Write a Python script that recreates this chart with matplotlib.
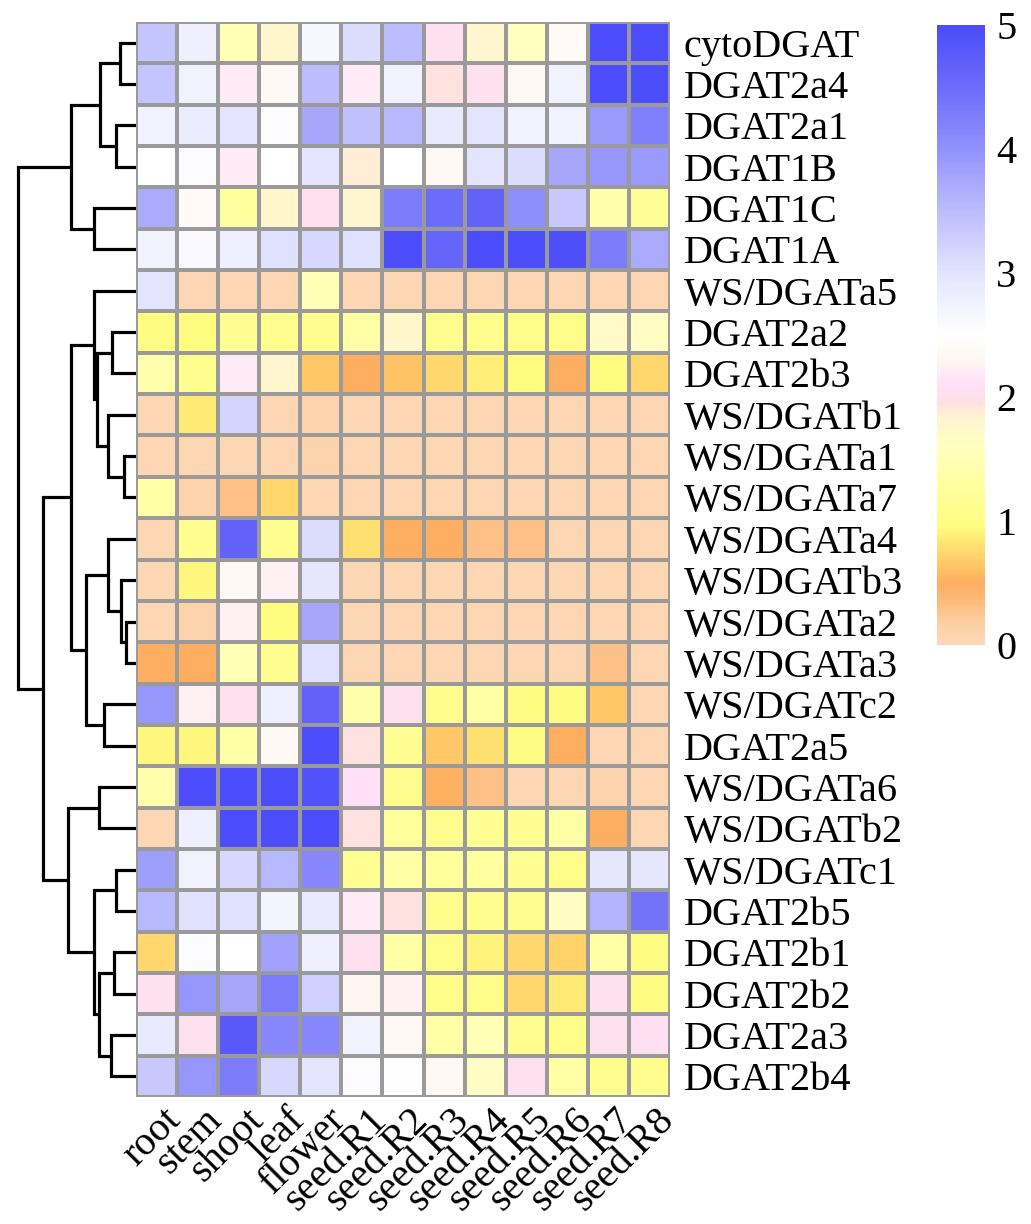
import numpy as np
import matplotlib
matplotlib.use("Agg")
import matplotlib.pyplot as plt
from matplotlib.colors import LinearSegmentedColormap, Normalize
import matplotlib.colorbar as mcolorbar

plt.rcParams['font.family'] = ['Liberation Serif', 'DejaVu Serif']

samples = ["root", "stem", "shoot", "leaf", "flower", "seed.R1", "seed.R2",
           "seed.R3", "seed.R4", "seed.R5", "seed.R6", "seed.R7", "seed.R8"]

genes = ["cytoDGAT", "DGAT2a4", "DGAT2a1", "DGAT1B", "DGAT1C", "DGAT1A",
         "WS/DGATa5", "DGAT2a2", "DGAT2b3", "WS/DGATb1", "WS/DGATa1", "WS/DGATa7",
         "WS/DGATa4", "WS/DGATb3", "WS/DGATa2", "WS/DGATa3", "WS/DGATc2", "DGAT2a5",
         "WS/DGATa6", "WS/DGATb2", "WS/DGATc1", "DGAT2b5", "DGAT2b1", "DGAT2b2",
         "DGAT2a3", "DGAT2b4"]

expr = [
    [3.40, 2.80, 1.50, 1.75, 2.65, 3.10, 3.50, 2.05, 1.80, 1.60, 2.40, 5.00, 5.00],
    [3.40, 2.75, 2.20, 2.35, 3.50, 2.20, 2.75, 1.95, 2.05, 2.35, 2.75, 5.00, 5.00],
    [2.75, 2.85, 3.00, 2.55, 3.75, 3.45, 3.55, 2.90, 3.00, 2.75, 2.75, 3.90, 4.25],
    [2.50, 2.55, 2.20, 2.50, 3.00, 1.88, 2.50, 2.35, 3.00, 3.10, 3.75, 3.95, 3.90],
    [3.70, 2.40, 1.30, 1.75, 2.05, 1.80, 4.30, 4.50, 4.65, 4.05, 3.35, 1.40, 1.20],
    [2.75, 2.60, 2.80, 3.05, 3.15, 3.05, 5.00, 4.60, 5.00, 5.00, 4.95, 4.30, 3.70],
    [3.00, 0.05, 0.05, 0.05, 1.50, 0.05, 0.05, 0.05, 0.05, 0.05, 0.05, 0.05, 0.05],
    [1.00, 0.95, 1.15, 1.10, 1.10, 1.35, 1.75, 1.10, 1.10, 1.05, 1.05, 1.70, 1.65],
    [1.40, 1.10, 2.20, 1.80, 0.65, 0.50, 0.62, 0.75, 0.88, 0.95, 0.50, 0.95, 0.75],
    [0.05, 0.85, 3.20, 0.05, 0.10, 0.05, 0.05, 0.05, 0.05, 0.05, 0.05, 0.05, 0.05],
    [0.05, 0.05, 0.05, 0.05, 0.10, 0.05, 0.05, 0.05, 0.05, 0.05, 0.05, 0.05, 0.05],
    [1.35, 0.10, 0.30, 0.75, 0.05, 0.05, 0.05, 0.05, 0.05, 0.05, 0.05, 0.05, 0.05],
    [0.05, 1.10, 4.65, 1.10, 3.10, 0.80, 0.50, 0.50, 0.30, 0.30, 0.05, 0.05, 0.05],
    [0.05, 0.92, 2.35, 2.25, 2.95, 0.05, 0.05, 0.05, 0.05, 0.05, 0.05, 0.05, 0.05],
    [0.05, 0.10, 2.25, 0.95, 3.75, 0.05, 0.05, 0.05, 0.05, 0.05, 0.05, 0.05, 0.05],
    [0.50, 0.50, 1.50, 1.10, 3.05, 0.05, 0.05, 0.05, 0.05, 0.05, 0.05, 0.30, 0.05],
    [3.95, 2.25, 2.05, 2.80, 4.65, 1.40, 2.05, 1.10, 1.35, 1.00, 1.00, 0.65, 0.05],
    [0.92, 0.92, 1.35, 2.35, 5.00, 1.95, 1.15, 0.65, 0.80, 1.00, 0.50, 0.05, 0.05],
    [1.40, 5.00, 5.00, 5.00, 4.90, 2.10, 1.10, 0.52, 0.30, 0.05, 0.05, 0.10, 0.05],
    [0.05, 2.80, 5.00, 5.00, 5.00, 1.95, 1.25, 1.10, 1.15, 1.15, 1.35, 0.50, 0.05],
    [3.85, 2.75, 3.15, 3.55, 4.15, 1.15, 1.35, 1.25, 1.30, 1.15, 1.05, 2.95, 2.95],
    [3.55, 3.05, 3.05, 2.70, 2.90, 2.20, 1.95, 1.10, 1.10, 1.10, 1.65, 3.60, 4.40],
    [0.75, 2.55, 2.50, 3.80, 2.80, 2.05, 1.35, 1.05, 0.90, 0.75, 0.72, 1.35, 1.00],
    [2.05, 3.95, 3.75, 4.30, 3.25, 2.30, 2.25, 1.05, 1.05, 0.75, 0.85, 2.05, 1.00],
    [2.90, 2.05, 4.80, 4.15, 4.15, 2.75, 2.35, 1.35, 1.50, 1.10, 1.05, 2.05, 2.07],
    [3.35, 3.95, 4.30, 3.15, 3.00, 2.55, 2.52, 2.35, 1.65, 2.05, 1.35, 1.10, 1.10],
]

# row dendrogram merges: (child_a, child_b, height); leaves are 0..25, new nodes 26+
merges = [
    (0, 1, 16), (2, 3, 20), (26, 27, 36), (4, 5, 42), (28, 29, 65),
    (10, 11, 12), (9, 31, 28), (7, 8, 24), (33, 32, 39), (6, 34, 42),
    (14, 15, 10), (13, 36, 15), (12, 37, 28), (16, 17, 32), (38, 39, 50),
    (35, 40, 65), (18, 19, 37), (20, 21, 20), (22, 23, 22), (24, 25, 25),
    (44, 45, 37), (43, 46, 42), (42, 47, 68), (41, 48, 93), (30, 49, 118),
]

cb_ticks = [0, 1, 2, 3, 4, 5]

# colour scale (value, colour)
cstops = [
    (0.00, "#FDD9B8"), (0.15, "#FDD0A8"), (0.35, "#FDBA7A"), (0.50, "#FDAE60"),
    (0.65, "#FFC866"), (0.80, "#FFE070"), (0.95, "#FFFC80"), (1.30, "#FFFFA0"),
    (1.60, "#FFFFC0"), (1.85, "#FFF2D2"), (1.95, "#FFE0E0"), (2.10, "#FFE0F8"),
    (2.30, "#FFF6F2"), (2.50, "#FFFFFF"), (3.00, "#E4E4FF"), (3.50, "#BCBCFF"),
    (4.00, "#9292FC"), (4.50, "#6C6CFA"), (5.00, "#4C4CFA"),
]
vmin, vmax = 0.0, 5.0
cmap = LinearSegmentedColormap.from_list(
    "expr", [((v - vmin) / (vmax - vmin), c) for v, c in cstops], N=512)
norm = Normalize(vmin=vmin, vmax=vmax)

W, H = 1031, 1224
fig = plt.figure(figsize=(W / 100, H / 100), dpi=100)

hm_left, hm_right, hm_top, hm_bot = 136, 670, 22, 1097
ax = fig.add_axes([hm_left / W, (H - hm_bot) / H, (hm_right - hm_left) / W, (hm_bot - hm_top) / H])
data = np.array(expr)
nr, nc = data.shape
ax.pcolormesh(np.arange(nc + 1), np.arange(nr + 1), data, cmap=cmap, norm=norm,
              edgecolors="#9a9a9a", linewidth=1.6)
ax.set_xlim(0, nc)
ax.set_ylim(nr, 0)
for s in ax.spines.values():
    s.set_visible(False)
ax.set_xticks([])
ax.yaxis.tick_right()
ax.set_yticks(np.arange(nr) + 0.5)
ax.set_yticklabels(genes, fontsize=29)
ax.tick_params(axis="y", length=0, pad=10)

for j, name in enumerate(samples):
    ax.text(j + 0.65, nr + 0.1, name, rotation=45, ha="right", va="top",
            rotation_mode="anchor", fontsize=29)

# dendrogram
axd = fig.add_axes([0, (H - hm_bot) / H, hm_left / W, (hm_bot - hm_top) / H])
pos = {i: (i + 0.5, 0.0) for i in range(nr)}
nid = nr
for a, b, h in merges:
    ya, ha = pos[a]
    yb, hb = pos[b]
    axd.plot([ha, h, h, hb], [ya, ya, yb, yb], color="black", lw=2.3,
             solid_joinstyle="miter", solid_capstyle="butt")
    pos[nid] = ((ya + yb) / 2.0, h)
    nid += 1
axd.set_xlim(hm_left, 0)
axd.set_ylim(nr, 0)
axd.axis("off")

# colorbar
cb_left, cb_right, cb_top, cb_bot = 937, 985, 25, 645
cax = fig.add_axes([cb_left / W, (H - cb_bot) / H, (cb_right - cb_left) / W, (cb_bot - cb_top) / H])
cb = mcolorbar.ColorbarBase(cax, cmap=cmap, norm=norm, orientation="vertical")
cb.outline.set_visible(False)
cb.set_ticks(cb_ticks)
cb.set_ticklabels([str(t) for t in cb_ticks])
cax.tick_params(length=0, labelsize=29, pad=8)

fig.savefig("out.png", dpi=100)
